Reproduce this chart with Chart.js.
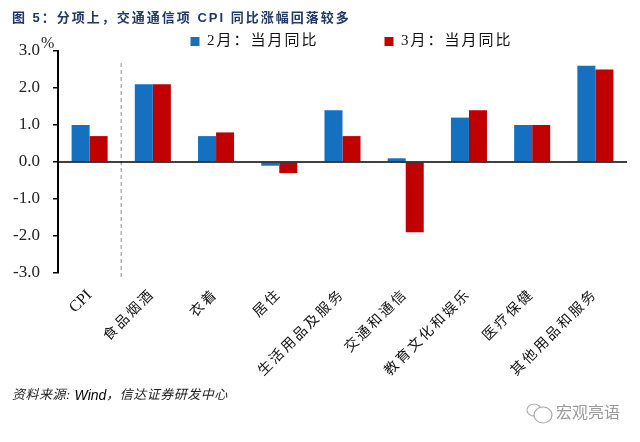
<!DOCTYPE html>
<html>
<head>
<meta charset="utf-8">
<style>
html, body { margin: 0; padding: 0; background: #fff; }
canvas { display: block; }
</style>
<script src="https://cdn.jsdelivr.net/npm/chart.js@4"></script>
</head>
<body>
<canvas id="myChart" width="640" height="442"></canvas>
<script>
const categories = ['CPI', '食品烟酒', '衣着', '居住', '生活用品及服务', '交通和通信', '教育文化和娱乐', '医疗保健', '其他用品和服务'];
const febValues = [1.0, 2.1, 0.7, -0.1, 1.4, 0.1, 1.2, 1.0, 2.6];
const marValues = [0.7, 2.1, 0.8, -0.3, 0.7, -1.9, 1.4, 1.0, 2.5];
const seriesNames = ['2月：当月同比', '3月：当月同比'];
const titleText = '图 5：分项上，交通通信项 CPI 同比涨幅回落较多';
const sourceCn1 = '资料来源: ';
const sourceEn = 'Wind';
const sourceCn2 = '，信达证券研发中心';
const markText = '宏观亮语';

const serif = '"Liberation Serif", "Noto Sans CJK SC"';
const sans = '"Liberation Sans", "Noto Sans CJK SC"';
const legendGap = 66;

// canvas text has no css letter spacing, so set it on the context per element
function withSpacing(obj, name, spacing) {
    const original = obj[name];
    obj[name] = function() {
        const ctx = this.ctx;
        const old = ctx.letterSpacing;
        ctx.letterSpacing = spacing;
        original.apply(this, arguments);
        ctx.letterSpacing = old;
    };
}

const extras = {
    id: 'extras',
    beforeUpdate(chart) {
        chart.ctx.letterSpacing = '2px';
        // big item gap in the legend, but keep its box short
        if (!chart.legend.patched) {
            chart.legend.patched = true;
            const fit = chart.legend.fit;
            chart.legend.fit = function() {
                fit.apply(this, arguments);
                this.height = 21;
            };
        }
    },
    afterLayout(chart) {
        chart.titleBlock.left += 12;
        chart.legend.left += 38;
        chart.legend.right += 38;
        chart.legend.top = 34 - legendGap;
        const xs = chart.scales.x;
        if (!xs.spaced) {
            xs.spaced = true;
            withSpacing(chart.scales.y, 'drawLabels', '0px');
            // CPI is latin and tight, the chinese labels are spread out
            const drawLabels = xs.drawLabels;
            xs.drawLabels = function(area) {
                const ctx = this.ctx;
                const items = this.getLabelItems(area);
                ctx.letterSpacing = '0px';
                this._labelItems = items.slice(0, 1);
                drawLabels.call(this, area);
                ctx.letterSpacing = '2.5px';
                this._labelItems = items.slice(1);
                drawLabels.call(this, area);
                this._labelItems = items;
                ctx.letterSpacing = '2px';
            };
        }
    },
    beforeDatasetsDraw(chart) {
        const ctx = chart.ctx;
        const area = chart.chartArea;
        const x = chart.scales.x.getPixelForValue(0.5);
        ctx.save();
        ctx.strokeStyle = '#a6a6a6';
        ctx.lineWidth = 1.3;
        ctx.setLineDash([4, 3]);
        ctx.beginPath();
        ctx.moveTo(x, area.top + 12);
        ctx.lineTo(x, area.bottom + 5);
        ctx.stroke();
        ctx.restore();
    },
    afterDraw(chart) {
        const ctx = chart.ctx;
        const y0 = chart.scales.y.getPixelForValue(0);
        ctx.save();
        ctx.letterSpacing = '0px';
        // zero line
        ctx.strokeStyle = '#000';
        ctx.lineWidth = 1.5;
        ctx.beginPath();
        ctx.moveTo(chart.chartArea.left, y0);
        ctx.lineTo(chart.chartArea.right, y0);
        ctx.stroke();
        // unit
        ctx.fillStyle = '#222';
        ctx.textBaseline = 'middle';
        ctx.font = '16px ' + serif;
        ctx.fillText('%', 41, 44);
        // source line
        ctx.letterSpacing = '0.5px';
        ctx.font = 'italic 13px ' + serif;
        let tx = 12;
        ctx.fillText(sourceCn1, tx, 396);
        tx += ctx.measureText(sourceCn1).width;
        ctx.font = 'italic 14px ' + sans;
        ctx.letterSpacing = '0px';
        ctx.fillStyle = '#000';
        ctx.fillText(sourceEn, tx, 396);
        tx += ctx.measureText(sourceEn).width;
        ctx.letterSpacing = '0.5px';
        ctx.fillStyle = '#222';
        ctx.font = 'italic 13px ' + serif;
        ctx.fillText(sourceCn2, tx, 396);
        // watermark
        ctx.letterSpacing = '0px';
        ctx.fillStyle = '#9a9a9a';
        ctx.font = '16px ' + sans;
        ctx.fillText(markText, 556, 414);
        ctx.strokeStyle = '#b5b5b5';
        ctx.lineWidth = 1.2;
        ctx.beginPath();
        ctx.ellipse(534, 410, 7, 6, 0, 0, Math.PI * 2);
        ctx.stroke();
        ctx.fillStyle = '#fff';
        ctx.strokeStyle = '#a8a8a8';
        ctx.beginPath();
        ctx.ellipse(543, 415, 9, 8, 0, 0, Math.PI * 2);
        ctx.fill();
        ctx.stroke();
        ctx.restore();
    }
};

const myChart = new Chart(document.getElementById('myChart'), {
    type: 'bar',
    data: {
        labels: categories,
        datasets: [
            { label: seriesNames[0], data: febValues, backgroundColor: '#1570C0' },
            { label: seriesNames[1], data: marValues, backgroundColor: '#C00000' }
        ]
    },
    plugins: [extras],
    options: {
        responsive: false,
        animation: false,
        layout: { padding: { left: 0, right: 13, top: 0, bottom: 0 } },
        datasets: { bar: { categoryPercentage: 0.57, barPercentage: 1 } },
        plugins: {
            tooltip: { enabled: false },
            title: {
                display: true,
                text: titleText,
                align: 'start',
                color: '#1F3864',
                font: { family: sans, size: 13, weight: 'bold', lineHeight: 1 },
                padding: { top: 12, bottom: 5 }
            },
            legend: {
                display: true,
                position: 'top',
                labels: {
                    boxWidth: 9,
                    boxHeight: 9,
                    color: '#111',
                    padding: legendGap,
                    font: { family: serif, size: 15 }
                }
            }
        },
        scales: {
            x: {
                afterFit(scale) { scale.height = 169; },
                grid: { display: false },
                border: { display: false },
                ticks: {
                    minRotation: 45,
                    maxRotation: 45,
                    autoSkip: false,
                    color: '#111',
                    padding: 5,
                    font: c => ({ family: serif, size: c.index === 0 ? 16 : 14 })
                }
            },
            y: {
                min: -3,
                max: 3,
                afterFit(scale) { scale.width = 58; },
                border: { display: true, color: '#000', width: 2 },
                grid: { drawOnChartArea: false, color: '#000', tickLength: 5, lineWidth: 1.5 },
                ticks: {
                    stepSize: 1,
                    color: '#222',
                    padding: 13,
                    font: { family: serif, size: 17 },
                    callback: v => v.toFixed(1)
                }
            }
        }
    }
});
</script>
</body>
</html>
